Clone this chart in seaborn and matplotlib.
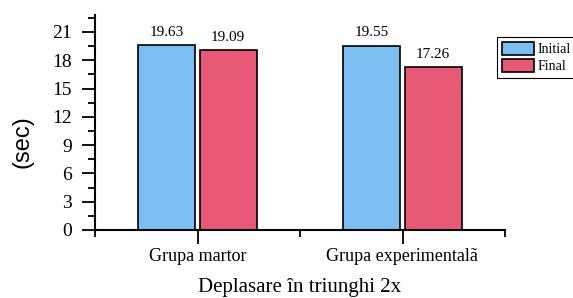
import matplotlib
matplotlib.use("Agg")
import matplotlib.pyplot as plt
import seaborn as sns
import pandas as pd
from matplotlib.ticker import MultipleLocator, FixedLocator

categories = ["Grupa martor", "Grupa experimentalã"]
initial = [19.63, 19.55]
final = [19.09, 17.26]
series = ["Initial", "Final"]
colors = ["#7BBEF2", "#E85877"]

df = pd.DataFrame({
    "group": categories * 2,
    "series": [series[0]] * 2 + [series[1]] * 2,
    "value": initial + final,
})

sns.set_theme(style="ticks")
plt.rcParams["font.family"] = ["Liberation Serif", "DejaVu Serif"]
plt.rcParams["text.color"] = "black"
plt.rcParams["axes.labelcolor"] = "black"
plt.rcParams["xtick.color"] = "black"
plt.rcParams["ytick.color"] = "black"

fig = plt.figure(figsize=(5.73, 2.98), dpi=100)
ax = fig.add_axes([95/573, 1-230/298, 410/573, 215/298])

sns.barplot(data=df, x="group", y="value", hue="series", palette=colors,
            saturation=1, width=0.6, gap=0.08, edgecolor="black",
            linewidth=1.2, ax=ax, legend=True)

for c in ax.containers:
    ax.bar_label(c, fmt="%.2f", padding=4.5, fontsize=11)

ax.set_xlim(-0.5, 1.5)
ax.set_ylim(0, 22.8)
ax.yaxis.set_major_locator(MultipleLocator(3))
ax.yaxis.set_minor_locator(MultipleLocator(1.5))
ax.xaxis.set_minor_locator(FixedLocator([-0.5, 0.5, 1.5]))
ax.tick_params(axis="y", which="major", length=9.5, width=1.3, labelsize=14, pad=7)
ax.tick_params(axis="y", which="minor", length=5, width=1.3)
ax.tick_params(axis="x", which="major", length=10, width=1.3, labelsize=13, pad=3)
ax.tick_params(axis="x", which="minor", length=5, width=1.3)
for s in ["top", "right"]:
    ax.spines[s].set_visible(False)
for s in ["left", "bottom"]:
    ax.spines[s].set_linewidth(1.5)
    ax.spines[s].set_color("black")

ax.set_xlabel("Deplasare în triunghi 2x", fontsize=15, labelpad=9)
ax.set_ylabel("(sec)", fontsize=17, family=["Liberation Sans", "DejaVu Sans"])
ax.yaxis.label.set_va("center")
ax.yaxis.set_label_coords(-0.178, 0.412)

leg = ax.legend(loc="upper left", bbox_to_anchor=(497/573, 1-37/298),
                bbox_transform=fig.transFigure, fontsize=10, frameon=True,
                fancybox=False, edgecolor="black", framealpha=1,
                handlelength=2.3, handleheight=1.05, handletextpad=0.3,
                borderpad=0.35, labelspacing=0.2, borderaxespad=0)
leg.get_frame().set_linewidth(0.8)
leg.set_title(None)

fig.savefig("out.png", dpi=100)
